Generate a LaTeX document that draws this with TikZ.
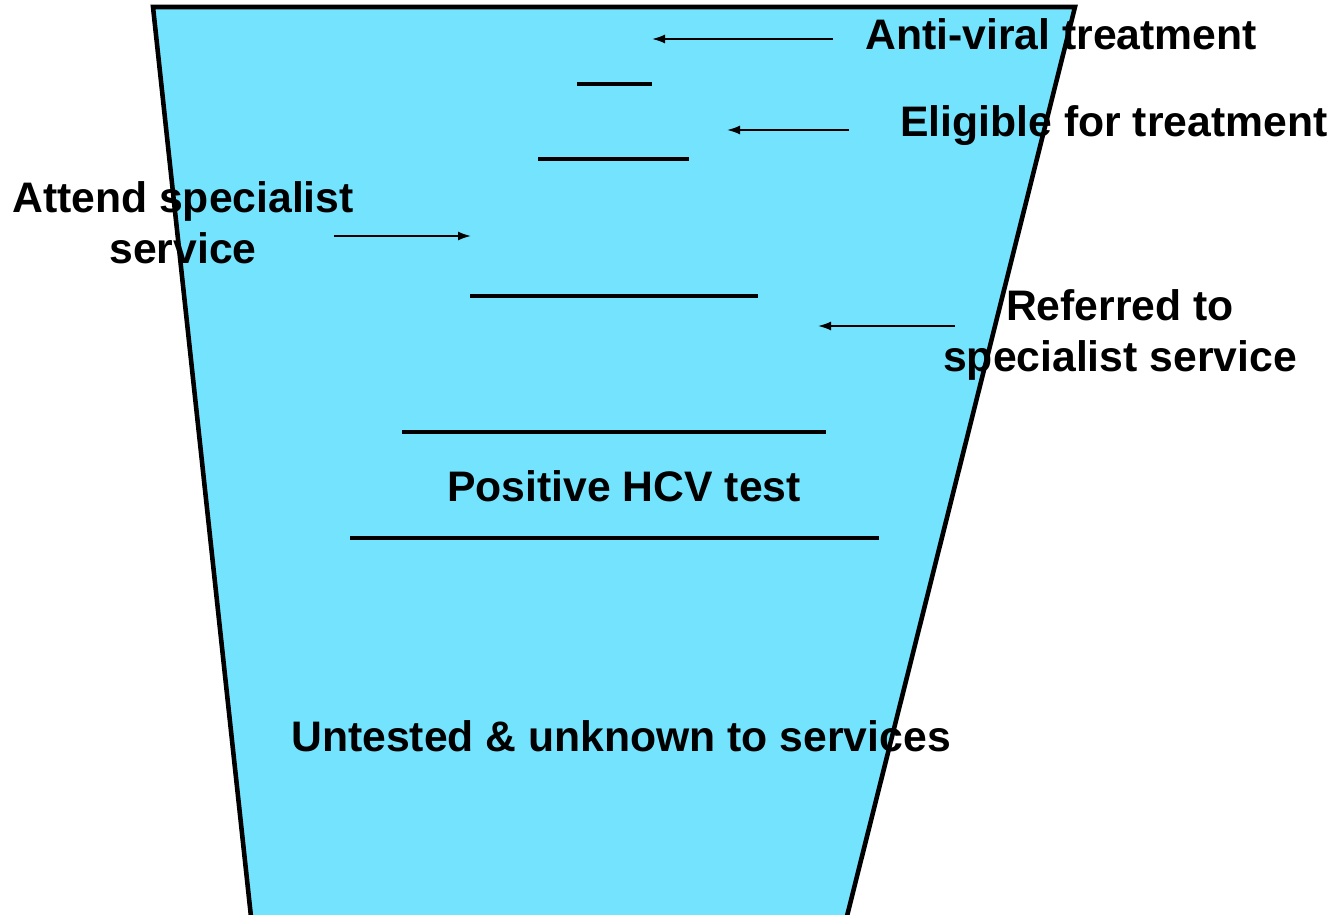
\documentclass[tikz,border=0pt]{standalone}
\usepackage{fontspec}
\setmainfont{Liberation Sans}
\usepackage{tikz}
\usetikzlibrary{arrows.meta, positioning, calc}
\definecolor{funnelblue}{RGB}{116,228,254}

\tikzset{
	stage/.style={font=\bfseries\fontsize{24.3}{29}\selectfont, inner sep=0pt, align=center},
	bar/.style={line width=2.3pt},
	pointer/.style={line width=1pt, -{Latex[length=2.6mm, width=1.8mm]}}
}

\begin{document}
\begin{tikzpicture}[x=0.02cm, y=-0.02cm]
			\useasboundingbox (0,0) rectangle (1334,915);
			\clip (0,0) rectangle (1334,915);
			% funnel
			\draw [fill=funnelblue, line width=2.6pt, line join=miter] (253.5,940) -- (153,7) -- (1075,7) -- (841,940);
			
			% levels
			\draw [bar] (577,84) -- (652,84);
			\draw [bar] (538,159) -- (689,159);
			\draw [bar] (470,296) -- (758,296);
			\draw [bar] (402,432) -- (826,432);
			\draw [bar] (350,538) -- (879,538);
			
			% labels
			\node [stage, anchor=west] (antiviral) at (865,34) {Anti-viral treatment};
			\node [stage, anchor=west] (eligible) at (900,126) {Eligible for treatment};
			\node [stage] (attend) at (183,223) {Attend specialist\\service};
			\node [stage] (referred) at (1120,335) {Referred to\\specialist service};
			\node [stage] (positive) at (624,486) {Positive HCV test};
			\node [stage] (untested) at (621,736) {Untested \& unknown to services};
			
			% arrows
			\coordinate (antiviraltail) at (833,39);
			\coordinate (antiviralend) at (652,39);
			\coordinate (eligibletail) at (849,130);
			\coordinate (eligibleend) at (727,130);
			\coordinate (attendtail) at (334,236);
			\coordinate (attendend) at (471,236);
			\coordinate (referredtail) at (955,326);
			\coordinate (referredend) at (818,326);
			\draw [pointer] (antiviraltail) -- (antiviralend);
			\draw [pointer] (eligibletail) -- (eligibleend);
			\draw [pointer] (attendtail) -- (attendend);
			\draw [pointer] (referredtail) -- (referredend);
			
\end{tikzpicture}
\end{document}
